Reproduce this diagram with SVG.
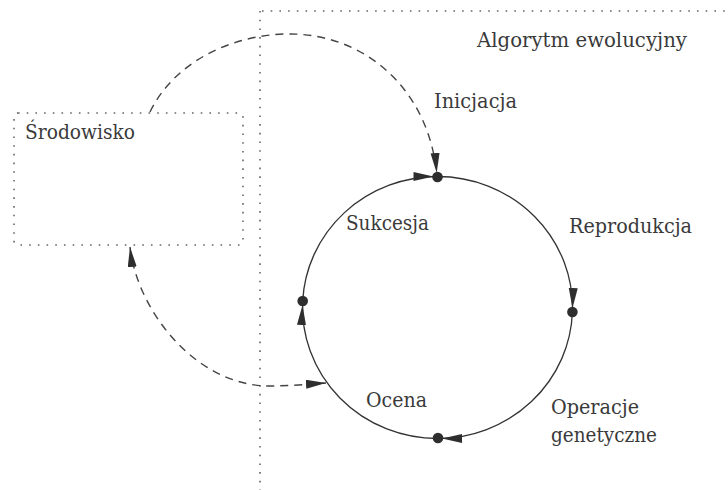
<svg xmlns="http://www.w3.org/2000/svg" width="728" height="490" viewBox="0 0 728 490">
<defs>
<style>
.lbl{font-family:"DejaVu Serif","Liberation Serif","Times New Roman",serif;font-size:20px;fill:#3a3a3a}
.dot{stroke:#666;stroke-width:1.6;stroke-dasharray:1.6 7.1;fill:none}
.arc{fill:none;stroke:#333;stroke-width:1.3}
.dash{fill:none;stroke:#444;stroke-width:1.4;stroke-dasharray:8 6}
.node{fill:#2e2e2e}
</style>
<marker id="ah" markerUnits="userSpaceOnUse" markerWidth="26" markerHeight="10" refX="24" refY="4.5" orient="auto">
<path d="M0,0 L20,4.5 L0,9 Z" fill="#2e2e2e"/>
</marker>
<marker id="ah0" markerUnits="userSpaceOnUse" markerWidth="22" markerHeight="10" refX="20" refY="4.5" orient="auto-start-reverse">
<path d="M0,0 L20,4.5 L0,9 Z" fill="#2e2e2e"/>
</marker>
</defs>
<rect width="728" height="490" fill="#ffffff"/>

<g id="algorytm">
<path class="dot" d="M262,11 H728 M260,11 V490"/>
<text class="lbl" x="477" y="47" textLength="210" lengthAdjust="spacingAndGlyphs">Algorytm ewolucyjny</text>
</g>

<g id="srodowisko">
<rect class="dot" x="14" y="113" width="229" height="132" rx="4"/>
<text class="lbl" x="25" y="139" textLength="110" lengthAdjust="spacingAndGlyphs">Środowisko</text>
</g>

<g id="connectors">
<path class="arc" d="M302.7,301 A135,131 0 0 1 437.5,176.5" marker-end="url(#ah)"/>
<path class="arc" d="M437.5,176.5 A135,131 0 0 1 572.4,312" marker-end="url(#ah)"/>
<path class="arc" d="M572.4,312 A135,131 0 0 1 438,438.5" marker-end="url(#ah)"/>
<path class="arc" d="M438,438.5 A135,131 0 0 1 302.7,301" marker-end="url(#ah)"/>
<path class="dash" d="M150,112 C172,66 225,36 285,34 C365,32 430,90 437,177" marker-end="url(#ah)"/>
<path class="dash" d="M130,247 C137,310 195,385 268,386 C290,386 310,384 326,383" marker-start="url(#ah0)" marker-end="url(#ah0)"/>
</g>

<g id="inicjacja">
<circle class="node" cx="437.5" cy="177" r="5.3"/>
<text class="lbl" x="434" y="108" textLength="83" lengthAdjust="spacingAndGlyphs">Inicjacja</text>
</g>
<g id="reprodukcja">
<circle class="node" cx="572.4" cy="312" r="5.3"/>
<text class="lbl" x="569" y="233" textLength="123" lengthAdjust="spacingAndGlyphs">Reprodukcja</text>
</g>
<g id="operacje">
<circle class="node" cx="438" cy="438" r="5.3"/>
<text class="lbl" x="551" y="414" textLength="88" lengthAdjust="spacingAndGlyphs">Operacje</text>
<text class="lbl" x="551" y="442" textLength="106" lengthAdjust="spacingAndGlyphs">genetyczne</text>
</g>
<g id="ocena">
<circle class="node" cx="302.7" cy="301" r="5.3"/>
<text class="lbl" x="366" y="407" textLength="61" lengthAdjust="spacingAndGlyphs">Ocena</text>
</g>
<g id="sukcesja">
<text class="lbl" x="346" y="230" textLength="83" lengthAdjust="spacingAndGlyphs">Sukcesja</text>
</g>
</svg>
